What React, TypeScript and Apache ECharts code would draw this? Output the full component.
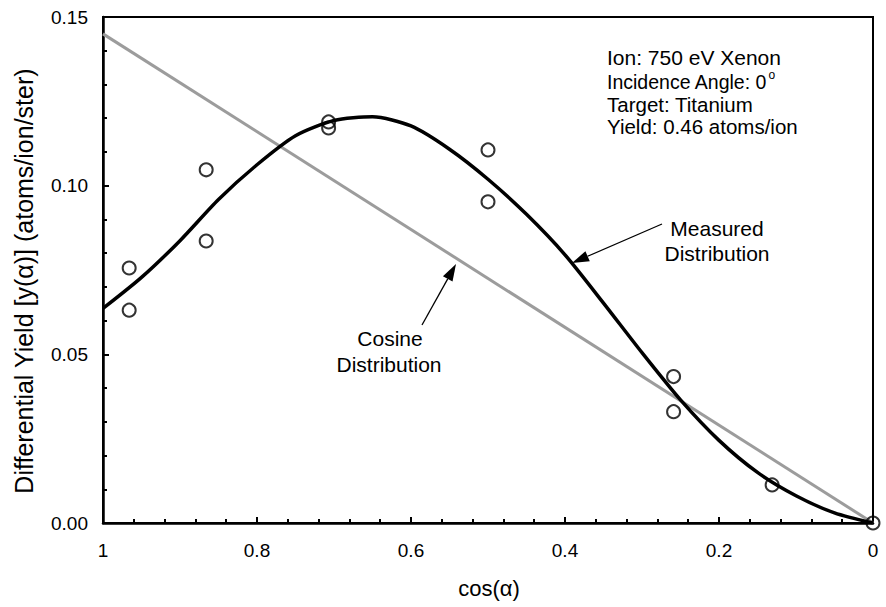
import React, { useEffect, useRef } from "react";
import * as echarts from "echarts";

const xTicks = [1, 0.8, 0.6, 0.4, 0.2, 0];
const yTicks = [0, 0.05, 0.1, 0.15];

// measured points (cos(alpha), yield)
const measuredX = [0.966, 0.966, 0.866, 0.866, 0.707, 0.707, 0.5, 0.5, 0.259, 0.259, 0.131, 0];
const measuredY = [0.0756, 0.0631, 0.1047, 0.0836, 0.1189, 0.1171, 0.1106, 0.0952, 0.0434, 0.033, 0.0113, 0];

// fitted measured distribution curve
const curveX = [1.0, 0.95, 0.9, 0.85, 0.8, 0.75, 0.7, 0.65, 0.6, 0.55, 0.5, 0.45, 0.4, 0.35, 0.3, 0.25, 0.2, 0.15, 0.1, 0.05, 0];
const curveY = [0.0636, 0.0728, 0.0837, 0.0959, 0.1062, 0.1148, 0.1193, 0.1204, 0.1177, 0.1108, 0.1019, 0.0915, 0.0795, 0.0652, 0.0505, 0.0365, 0.0245, 0.015, 0.0081, 0.003, 0];

// cosine distribution
const cosineX = [1, 0];
const cosineY = [0.145, 0];

const FONT = "Liberation Sans, Arial, Helvetica, sans-serif";

function arrow(x1: number, y1: number, x2: number, y2: number) {
  const dx = x2 - x1;
  const dy = y2 - y1;
  const len = Math.sqrt(dx * dx + dy * dy);
  const ux = dx / len;
  const uy = dy / len;
  const headLen = 17;
  const headW = 5.5;
  const bx = x2 - ux * headLen;
  const by = y2 - uy * headLen;
  return [
    {
      type: "line",
      shape: { x1, y1, x2: bx, y2: by },
      style: { stroke: "#000", lineWidth: 1.3 },
    },
    {
      type: "polygon",
      shape: {
        points: [
          [x2, y2],
          [bx - uy * headW, by + ux * headW],
          [bx + uy * headW, by - ux * headW],
        ],
      },
      style: { fill: "#000" },
    },
  ];
}

function measure(text: string, font: string) {
  const c = document.createElement("canvas").getContext("2d");
  if (!c) return text.length * 10;
  c.font = font;
  return c.measureText(text).width;
}

export default function App() {
  const ref = useRef<HTMLDivElement>(null);
  useEffect(() => {
    if (!ref.current) return;
    const chart = echarts.init(ref.current, null, { renderer: "svg" });
    const annFont = `21px ${FONT}`;
    const txt = (text: string, x: number, y: number, extra: any = {}) => ({
      type: "text",
      x,
      y,
      style: {
        text,
        font: annFont,
        fill: "#000",
        align: "left",
        verticalAlign: "middle",
        ...extra,
      },
    });
    const incText = "Incidence Angle: 0";
    const incFont = `19.5px ${FONT}`;
    const incW = measure(incText, incFont);
    chart.setOption({
      animation: false,
      grid: {
        left: 103,
        right: 13,
        top: 17,
        bottom: 84,
        show: true,
        borderColor: "#000",
        borderWidth: 2,
        containLabel: false,
      },
      xAxis: {
        type: "value",
        min: 0,
        max: 1,
        interval: 0.2,
        inverse: true,
        axisLine: { show: true, onZero: false, lineStyle: { color: "#000", width: 2.5 } },
        axisTick: { show: true, inside: true, length: 6, lineStyle: { color: "#000", width: 2 } },
        minorTick: { show: true, splitNumber: 5, length: 4, lineStyle: { color: "#000", width: 2 } },
        splitLine: { show: false },
        axisLabel: {
          margin: 18,
          fontSize: 19,
          fontFamily: FONT,
          color: "#000",
          formatter: (v: number) => String(Number(v.toFixed(1))),
        },
      },
      yAxis: {
        type: "value",
        min: 0,
        max: 0.15,
        interval: 0.05,
        axisLine: { show: true, onZero: false, lineStyle: { color: "#000", width: 2.5 } },
        axisTick: { show: true, inside: true, length: 6, lineStyle: { color: "#000", width: 2 } },
        minorTick: { show: true, splitNumber: 5, length: 4, lineStyle: { color: "#000", width: 2 } },
        splitLine: { show: false },
        axisLabel: {
          margin: 15,
          fontSize: 19,
          fontFamily: FONT,
          color: "#000",
          formatter: (v: number) => v.toFixed(2),
        },
      },
      series: [
        {
          type: "line",
          name: "Cosine Distribution",
          data: cosineX.map((x, i) => [x, cosineY[i]]),
          showSymbol: false,
          lineStyle: { color: "#9c9c9c", width: 3 },
          z: 2,
        },
        {
          type: "line",
          name: "Measured Distribution",
          data: curveX.map((x, i) => [x, curveY[i]]),
          smooth: 0.25,
          showSymbol: false,
          lineStyle: { color: "#000", width: 3.5 },
          z: 3,
        },
        {
          type: "scatter",
          name: "Measured",
          data: measuredX.map((x, i) => [x, measuredY[i]]),
          symbol: "circle",
          symbolSize: 13,
          itemStyle: { color: "rgba(255,255,255,0)", borderColor: "#000", borderWidth: 2 },
          clip: false,
          z: 4,
        },
      ],
      graphic: [
        txt("Ion: 750 eV Xenon", 607, 57),
        txt(incText, 607, 82, { font: incFont }),
        txt("o", 607 + incW + 1, 75, { font: `12px ${FONT}` }),
        txt("Target: Titanium", 607, 104, { font: `20.5px ${FONT}` }),
        txt("Yield: 0.46 atoms/ion", 607, 126, { font: `20.5px ${FONT}` }),
        txt("Measured", 717, 228, { align: "center" }),
        txt("Distribution", 717, 253, { align: "center" }),
        txt("Cosine", 390, 338, { align: "center" }),
        txt("Distribution", 389, 364, { align: "center" }),
        ...arrow(662, 224, 572, 263),
        ...arrow(422, 325, 456, 264),
        txt("cos(α)", 489, 588, { align: "center", font: `22px ${FONT}` }),
        {
          type: "text",
          x: 24,
          y: 281,
          rotation: Math.PI / 2,
          style: {
            text: "Differential Yield [y(α)] (atoms/ion/ster)",
            font: `25px ${FONT}`,
            fill: "#000",
            align: "center",
            verticalAlign: "middle",
          },
        },
      ],
    });
    return () => chart.dispose();
  }, []);
  return <div ref={ref} style={{ width: 886, height: 607, position: "absolute", left: 0, top: 0, background: "#fff" }} />;
}
